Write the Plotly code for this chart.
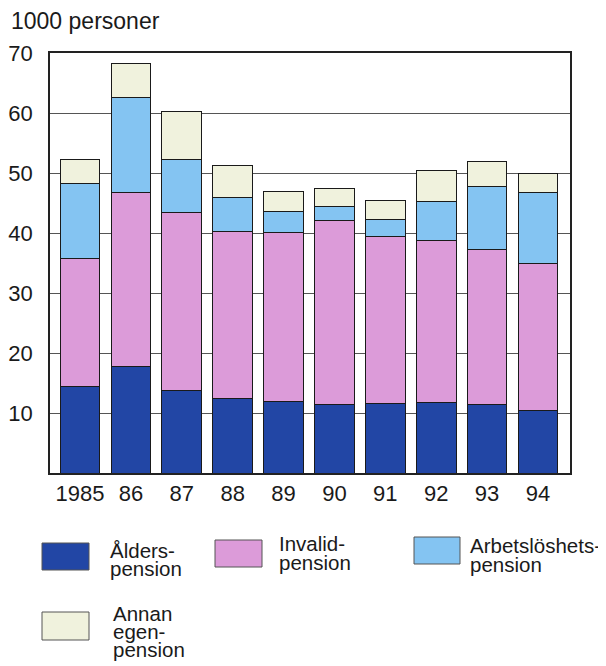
import plotly.graph_objects as go

years = ["1985", "86", "87", "88", "89", "90", "91", "92", "93", "94"]
alders = [14.5, 17.8, 13.7, 12.5, 12.0, 11.4, 11.6, 11.8, 11.5, 10.4]
invalid = [21.3, 28.9, 29.7, 27.7, 28.1, 30.7, 27.9, 26.9, 25.8, 24.6]
arbets = [12.5, 15.9, 8.8, 5.7, 3.5, 2.3, 2.8, 6.6, 10.5, 11.8]
annan = [4.0, 5.6, 8.1, 5.4, 3.4, 3.0, 3.2, 5.1, 4.1, 3.2]
yticks = [10, 20, 30, 40, 50, 60, 70]

names = ["Ålders-pension", "Invalid-pension", "Arbetslöshets-pension", "Annan egen-pension"]
label_lines = [["Ålders-", "pension"], ["Invalid-", "pension"], ["Arbetslöshets-", "pension"],
               ["Annan", "egen-", "pension"]]
colors = ["#2246a5", "#dc9bd9", "#84c4f2", "#f0f2dd"]
series = [alders, invalid, arbets, annan]

FONT = "Liberation Sans, Arial, sans-serif"
OFF = 8                      # browser body margin
W, H = 606 - OFF, 666 - OFF
# plot frame in reference pixels
L, R, T, B = 50 - OFF, 570 - OFF, 53 - OFF, 473 - OFF

fig = go.Figure()
xpos = list(range(len(years)))
for vals, col, nm in zip(series, colors, names):
    fig.add_trace(go.Bar(x=xpos, y=vals, name=nm,
                         marker=dict(color=col, line=dict(color="#1a1a1a", width=1)),
                         width=0.78, showlegend=False))

fig.update_layout(
    barmode="stack",
    width=W, height=H,
    margin=dict(l=L, r=W - R, t=T, b=H - B, pad=0, autoexpand=False),
    paper_bgcolor="white", plot_bgcolor="white",
    font=dict(family=FONT, color="#1a1a1a"),
)
fig.update_xaxes(range=[-0.59, 9.63], tickmode="array", tickvals=xpos, ticktext=years,
                 tickfont=dict(size=22, family=FONT), showgrid=False, zeroline=False,
                 showline=True, linecolor="#222", linewidth=1.5, mirror=True, ticks="",
                 ticklabelstandoff=0)
fig.update_yaxes(range=[0, 70], tickmode="array", tickvals=yticks, ticktext=[str(v) for v in yticks],
                 tickfont=dict(size=22, family=FONT), showgrid=True, gridcolor="#555", gridwidth=1,
                 zeroline=False, showline=True, linecolor="#222", linewidth=1.5, mirror=True, ticks="",
                 ticklabelstandoff=11)


def px2x(px):
    return (px - OFF - L) / (R - L)


def py2y(py):
    return (B - (py - OFF)) / (B - T)


fig.add_annotation(text="1000 personer", xref="paper", yref="paper",
                   x=px2x(9), y=py2y(21), xanchor="left", yanchor="middle",
                   showarrow=False, font=dict(size=23, family=FONT))

# legend swatches: (x0, y0, x1, y1) in reference pixels, text x and baselines
legend_boxes = [(42, 543, 89, 570), (215, 540, 262, 567), (414, 537, 460, 564), (42, 612, 89, 640)]
legend_text_x = [108, 277, 468, 111]
legend_baselines = [[558, 576], [551, 570], [553, 572], [621, 639, 657]]
LF = 20.5
for (x0, y0, x1, y1), tx, bls, lines, col in zip(legend_boxes, legend_text_x, legend_baselines,
                                                  label_lines, colors):
    fig.add_shape(type="rect", xref="paper", yref="paper",
                  x0=px2x(x0), x1=px2x(x1), y0=py2y(y1), y1=py2y(y0),
                  fillcolor=col, line=dict(color="#555", width=1))
    for line, bl in zip(lines, bls):
        fig.add_annotation(text=line, xref="paper", yref="paper", x=px2x(tx), y=py2y(bl - 0.36 * LF),
                           xanchor="left", yanchor="middle", align="left", showarrow=False,
                           font=dict(size=LF, family=FONT))

fig.write_html("out.html")
